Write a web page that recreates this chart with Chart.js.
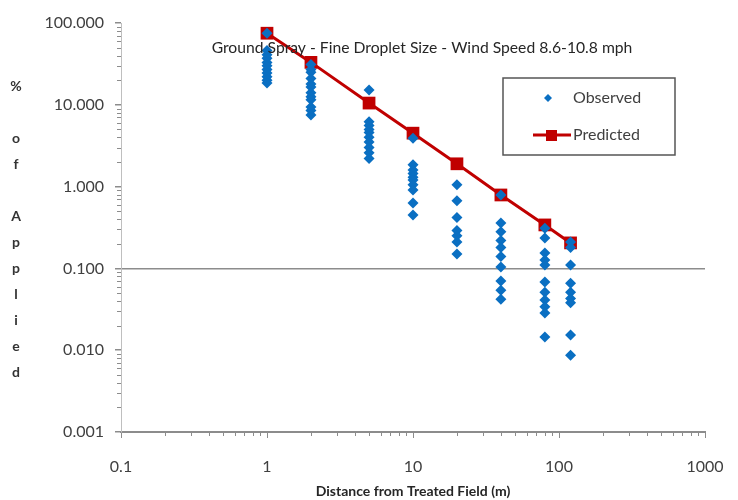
<!DOCTYPE html>
<html>
<head>
<meta charset="utf-8">
<script src="https://cdn.jsdelivr.net/npm/chart.js@4/dist/chart.umd.min.js"></script>
<style>
  body { margin: 0; background: #fff; }
  #wrap { width: 738px; height: 500px; }
</style>
</head>
<body>
<div id="wrap"><canvas id="driftChart" width="738" height="500"></canvas></div>
<script>
// distances (m) where drift was sampled
const distances = [1, 2, 5, 10, 20, 40, 80, 120];
// predicted % of applied at each distance
const predicted = [75, 33, 10.5, 4.5, 1.9, 0.79, 0.34, 0.205];

// observed % of applied, one array per distance
const obs1m = [75, 46, 41, 37, 33, 30, 27, 24.5, 22, 20, 18.5];
const obs2m = [31, 27, 25, 21, 18, 16.5, 14, 12.5, 11.5, 9.4, 8.5, 7.5];
const obs5m = [15.2, 6.2, 5.6, 5.0, 4.6, 4.0, 3.5, 3.0, 2.6, 2.2];
const obs10m = [3.9, 1.85, 1.6, 1.45, 1.3, 1.2, 1.05, 0.91, 0.63, 0.45];
const obs20m = [1.05, 0.67, 0.42, 0.29, 0.25, 0.21, 0.15];
const obs40m = [0.79, 0.36, 0.28, 0.22, 0.18, 0.14, 0.104, 0.07, 0.054, 0.042];
const obs80m = [0.31, 0.235, 0.154, 0.127, 0.11, 0.068, 0.051, 0.041, 0.034, 0.0285, 0.0145];
const obs120m = [0.21, 0.18, 0.11, 0.066, 0.051, 0.043, 0.038, 0.0153, 0.0087];
const observed = [obs1m, obs2m, obs5m, obs10m, obs20m, obs40m, obs80m, obs120m];

const xTicks = [0.1, 1, 10, 100, 1000];
const yTicks = [0.001, 0.01, 0.1, 1, 10, 100];
const chartTitle = "Ground Spray - Fine Droplet Size - Wind Speed 8.6-10.8 mph";
const xTitle = "Distance from Treated Field (m)";
const yTitleChars = ["%", "", "o", "f", "", "A", "p", "p", "l", "i", "e", "d"];

const blue = "#0a6fc2";
const red = "#c00000";

const observedPoints = [];
distances.forEach((d, i) => {
    observed[i].forEach(v => observedPoints.push({ x: d, y: v }));
});
const predictedPoints = distances.map((d, i) => ({ x: d, y: predicted[i] }));

// minor ticks, title, stacked y label and legend box
const extrasPlugin = {
    id: "extras",
    afterDraw(chart) {
        const ctx = chart.ctx;
        const xs = chart.scales.x;
        const ys = chart.scales.y;
        ctx.save();
        ctx.strokeStyle = "#8c8c8c";
        ctx.lineWidth = 1;
        for (let d = 0.1; d < 1000; d *= 10) {
            for (let k = 2; k < 10; k++) {
                const px = Math.round(xs.getPixelForValue(k * d)) + 0.5;
                ctx.beginPath();
                ctx.moveTo(px, xs.top);
                ctx.lineTo(px, xs.top + 4);
                ctx.stroke();
            }
        }
        for (let d = 0.001; d < 100; d *= 10) {
            for (let k = 2; k < 10; k++) {
                const py = Math.round(ys.getPixelForValue(k * d)) + 0.5;
                ctx.beginPath();
                ctx.moveTo(ys.right - 4, py);
                ctx.lineTo(ys.right, py);
                ctx.stroke();
            }
        }

        // title sits inside the plot
        ctx.fillStyle = "#262626";
        ctx.font = "15.7px Lato";
        ctx.textAlign = "center";
        ctx.textBaseline = "middle";
        ctx.fillText(chartTitle, 422, 48);

        // stacked y axis title
        ctx.font = "bold 14px Lato";
        ctx.fillStyle = "#333";
        yTitleChars.forEach((c, i) => ctx.fillText(c, 16, 86 + i * 26));

        // legend
        const lx = 503, ly = 78, lw = 172, lh = 77;
        ctx.fillStyle = "#fff";
        ctx.fillRect(lx, ly, lw, lh);
        ctx.strokeStyle = "#555";
        ctx.lineWidth = 1.5;
        ctx.strokeRect(lx, ly, lw, lh);

        ctx.fillStyle = blue;
        ctx.beginPath();
        ctx.moveTo(548 - 4, 98);
        ctx.lineTo(548, 98 - 4);
        ctx.lineTo(548 + 4, 98);
        ctx.lineTo(548, 98 + 4);
        ctx.closePath();
        ctx.fill();

        ctx.strokeStyle = red;
        ctx.lineWidth = 3;
        ctx.beginPath();
        ctx.moveTo(533, 135);
        ctx.lineTo(571, 135);
        ctx.stroke();
        ctx.fillStyle = red;
        ctx.fillRect(546, 130, 11, 11);

        ctx.fillStyle = "#404040";
        ctx.font = "16px Lato";
        ctx.textAlign = "left";
        ctx.fillText("Observed", 573, 98);
        ctx.fillText("Predicted", 573, 135);
        ctx.restore();
    }
};

new Chart(document.getElementById("driftChart"), {
    type: "scatter",
    data: {
        datasets: [
            {
                label: "Observed",
                data: observedPoints,
                pointStyle: "rectRot",
                pointRadius: 5.5,
                pointHoverRadius: 5.5,
                backgroundColor: blue,
                borderColor: blue,
                borderWidth: 0
            },
            {
                label: "Predicted",
                data: predictedPoints,
                showLine: true,
                pointStyle: "rect",
                pointRadius: 9,
                pointHoverRadius: 9,
                backgroundColor: red,
                borderColor: red,
                borderWidth: 3,
                pointBorderWidth: 0
            }
        ]
    },
    options: {
        responsive: false,
        animation: false,
        layout: { padding: { left: 0, top: 23, right: 33, bottom: 0 } },
        plugins: {
            legend: { display: false },
            tooltip: { enabled: false }
        },
        scales: {
            x: {
                type: "logarithmic",
                min: 0.1,
                max: 1000,
                afterBuildTicks: (scale) => { scale.ticks = xTicks.map(v => ({ value: v })); },
                afterFit: (scale) => {
                    scale.height = 68;
                    scale.paddingLeft = 0;
                    scale.paddingRight = 0;
                },
                ticks: {
                    callback: (v) => String(v),
                    color: "#404040",
                    font: { family: "Lato", size: 16 },
                    padding: 19,
                    maxRotation: 0
                },
                grid: { drawOnChartArea: false, tickLength: 6, tickColor: "#8c8c8c" },
                border: { display: true, color: "#8c8c8c", width: 2 },
                title: {
                    display: true,
                    text: xTitle,
                    color: "#262626",
                    font: { family: "Lato", size: 14, weight: "bold" },
                    padding: { top: 0, bottom: 0 }
                }
            },
            y: {
                type: "logarithmic",
                min: 0.001,
                max: 100,
                afterBuildTicks: (scale) => { scale.ticks = yTicks.map(v => ({ value: v })); },
                afterFit: (scale) => { scale.width = 121; },
                ticks: {
                    callback: (v) => Number(v).toFixed(3),
                    color: "#404040",
                    font: { family: "Lato", size: 16 },
                    padding: 11
                },
                grid: {
                    color: (c) => (c.tick && c.tick.value === 0.1 ? "#8c8c8c" : "rgba(0,0,0,0)"),
                    lineWidth: 1.5,
                    tickLength: 6,
                    tickColor: "#8c8c8c"
                },
                border: { display: true, color: "#bfbfbf", width: 1 }
            }
        }
    },
    plugins: [extrasPlugin]
});
</script>
</body>
</html>
